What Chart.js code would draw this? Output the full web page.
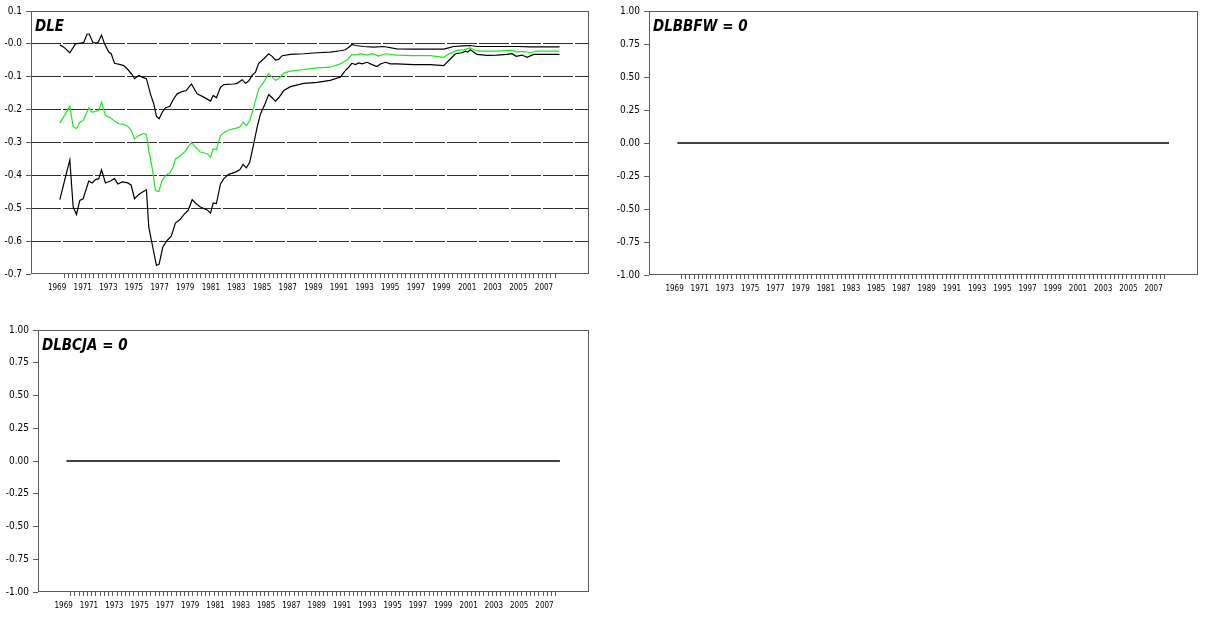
<!DOCTYPE html>
<html>
<head>
<meta charset="utf-8">
<script src="https://cdn.jsdelivr.net/npm/chart.js@4.4.1/dist/chart.umd.min.js"></script>
<style>
  html, body { margin: 0; padding: 0; background: #fff; }
  #page { position: relative; width: 1206px; height: 618px; overflow: hidden; }
  canvas { position: absolute; }
</style>
</head>
<body>
<div id="page">
  <canvas id="dleChart" width="600" height="300" style="left:0;top:0"></canvas>
  <canvas id="bbfwChart" width="606" height="300" style="left:600px;top:0"></canvas>
  <canvas id="bcjaChart" width="600" height="318" style="left:0;top:300px"></canvas>
</div>
<script>
// Recursive estimates of DLE with +/- 2 s.e. band
const upperYears = [1969.0, 1969.31, 1969.78, 1970.22, 1970.61, 1970.87, 1971.13, 1971.29, 1971.6, 1971.97,
  1972.25, 1972.49, 1972.82, 1973.01, 1973.27, 1973.73, 1973.99, 1974.31, 1974.65, 1974.83,
  1975.16, 1975.43, 1975.76, 1976.07, 1976.33, 1976.54, 1976.75, 1976.99, 1977.24, 1977.58,
  1977.89, 1978.16, 1978.55, 1978.86, 1979.06, 1979.27, 1979.72, 1980.23, 1980.76, 1980.97,
  1981.22, 1981.54, 1981.8, 1982.57, 1982.84, 1983.23, 1983.49, 1983.74, 1984.0, 1984.27,
  1984.52, 1984.9, 1985.3, 1985.57, 1985.83, 1986.08, 1986.35, 1987.0, 1988.03, 1989.08,
  1990.1, 1990.9, 1991.29, 1991.55, 1991.8, 1992.07, 1992.7, 1993.5, 1994.27, 1995.3,
  1996.6, 1997.9, 1998.95, 1999.34, 1999.73, 2000.5, 2001.04, 2001.56, 2003.1, 2004.7,
  2005.7, 2008.0];
const upperVals = [-0.003, -0.010, -0.027, 0.000, 0.002, 0.005, 0.030, 0.030, 0.003, 0.003,
  0.027, 0.000, -0.025, -0.030, -0.059, -0.063, -0.066, -0.078, -0.094, -0.106,
  -0.096, -0.101, -0.106, -0.152, -0.182, -0.221, -0.228, -0.208, -0.195, -0.190,
  -0.167, -0.152, -0.145, -0.142, -0.132, -0.122, -0.152, -0.162, -0.174, -0.157,
  -0.164, -0.132, -0.124, -0.122, -0.120, -0.109, -0.120, -0.113, -0.096, -0.086,
  -0.059, -0.046, -0.030, -0.038, -0.049, -0.047, -0.036, -0.032, -0.030, -0.027,
  -0.025, -0.021, -0.018, -0.010, -0.002, -0.005, -0.008, -0.010, -0.008, -0.015,
  -0.016, -0.016, -0.016, -0.012, -0.008, -0.006, -0.005, -0.008, -0.008, -0.008,
  -0.009, -0.009];

const estYears = [1969.0, 1969.44, 1969.78, 1970.04, 1970.3, 1970.56, 1970.82, 1971.26, 1971.52, 1971.78,
  1972.04, 1972.25, 1972.56, 1972.95, 1973.27, 1973.6, 1973.99, 1974.31, 1974.57, 1974.83,
  1975.16, 1975.55, 1975.76, 1975.94, 1976.2, 1976.46, 1976.72, 1976.99, 1977.32, 1977.58,
  1977.84, 1978.02, 1978.41, 1978.73, 1979.01, 1979.27, 1979.58, 1979.97, 1980.49, 1980.76,
  1980.97, 1981.22, 1981.54, 1981.8, 1982.18, 1982.7, 1983.04, 1983.3, 1983.56, 1983.82,
  1984.13, 1984.52, 1984.9, 1985.3, 1985.57, 1985.83, 1986.08, 1986.48, 1987.0, 1988.03,
  1989.08, 1990.1, 1990.9, 1991.42, 1991.81, 1992.07, 1992.46, 1992.98, 1993.37, 1993.89,
  1994.41, 1995.3, 1996.6, 1997.9, 1998.95, 1999.48, 2000.0, 2000.5, 2001.04, 2001.3,
  2001.69, 2003.1, 2004.29, 2004.7, 2005.2, 2005.7, 2006.24, 2008.0];
const estVals = [-0.241, -0.213, -0.190, -0.251, -0.258, -0.238, -0.233, -0.195, -0.208, -0.205,
  -0.203, -0.177, -0.218, -0.225, -0.235, -0.243, -0.245, -0.251, -0.263, -0.289,
  -0.279, -0.272, -0.276, -0.324, -0.375, -0.446, -0.449, -0.415, -0.397, -0.393,
  -0.375, -0.350, -0.340, -0.329, -0.314, -0.299, -0.314, -0.329, -0.334, -0.344,
  -0.319, -0.322, -0.279, -0.270, -0.262, -0.257, -0.253, -0.238, -0.249, -0.233,
  -0.193, -0.137, -0.117, -0.091, -0.101, -0.111, -0.106, -0.089, -0.083, -0.078,
  -0.073, -0.071, -0.061, -0.049, -0.032, -0.034, -0.030, -0.034, -0.030, -0.037,
  -0.030, -0.034, -0.036, -0.036, -0.041, -0.028, -0.020, -0.018, -0.012, -0.018,
  -0.022, -0.022, -0.020, -0.025, -0.023, -0.027, -0.022, -0.022];

const lowerYears = [1969.0, 1969.44, 1969.78, 1970.04, 1970.3, 1970.56, 1970.82, 1971.26, 1971.52, 1971.78,
  1972.04, 1972.25, 1972.56, 1972.95, 1973.27, 1973.53, 1973.87, 1974.31, 1974.57, 1974.83,
  1975.16, 1975.43, 1975.76, 1975.94, 1976.2, 1976.54, 1976.75, 1977.04, 1977.37, 1977.69,
  1978.02, 1978.36, 1978.73, 1979.01, 1979.33, 1979.58, 1979.97, 1980.49, 1980.76, 1980.97,
  1981.22, 1981.54, 1981.8, 1982.18, 1982.7, 1983.04, 1983.3, 1983.56, 1983.82, 1984.13,
  1984.4, 1984.66, 1984.97, 1985.3, 1985.57, 1985.83, 1986.08, 1986.48, 1987.0, 1988.03,
  1989.08, 1990.1, 1990.9, 1991.29, 1991.55, 1991.8, 1992.07, 1992.33, 1992.59, 1992.98,
  1993.37, 1993.76, 1994.02, 1994.41, 1994.8, 1995.3, 1996.6, 1997.9, 1998.95, 1999.48,
  1999.87, 2000.39, 2000.65, 2000.83, 2001.04, 2001.56, 2002.34, 2003.1, 2003.9, 2004.29,
  2004.62, 2005.07, 2005.46, 2005.98, 2008.0];
const lowerVals = [-0.474, -0.405, -0.353, -0.496, -0.519, -0.476, -0.471, -0.417, -0.423, -0.413,
  -0.410, -0.383, -0.423, -0.417, -0.410, -0.426, -0.420, -0.423, -0.430, -0.471,
  -0.458, -0.451, -0.444, -0.557, -0.608, -0.674, -0.670, -0.618, -0.598, -0.586,
  -0.545, -0.535, -0.517, -0.507, -0.474, -0.484, -0.496, -0.505, -0.515, -0.484,
  -0.486, -0.426, -0.410, -0.397, -0.390, -0.383, -0.367, -0.377, -0.360, -0.304,
  -0.253, -0.213, -0.187, -0.154, -0.164, -0.174, -0.164, -0.142, -0.130, -0.120,
  -0.117, -0.111, -0.101, -0.081, -0.071, -0.059, -0.063, -0.058, -0.061, -0.056,
  -0.063, -0.069, -0.061, -0.056, -0.061, -0.061, -0.063, -0.063, -0.066, -0.046,
  -0.030, -0.027, -0.022, -0.025, -0.018, -0.032, -0.035, -0.034, -0.032, -0.030,
  -0.038, -0.034, -0.041, -0.032, -0.032];

// the two restricted coefficients are zero over the whole sample
const zeroYears = [1969.0, 2008.0];
const zeroVals = [0, 0];

// axis ticks and labels
const yearLabels = ["1969", "1971", "1973", "1975", "1977", "1979", "1981", "1983", "1985", "1987",
  "1989", "1991", "1993", "1995", "1997", "1999", "2001", "2003", "2005", "2007"];
const dleTickValues = [-0.7, -0.6, -0.5, -0.4, -0.3, -0.2, -0.1, 0, 0.1];
const dleTickLabels = ["-0.7", "-0.6", "-0.5", "-0.4", "-0.3", "-0.2", "-0.1", "-0.0", "0.1"];
const unitTickValues = [-1, -0.75, -0.5, -0.25, 0, 0.25, 0.5, 0.75, 1];
const unitTickLabels = ["-1.00", "-0.75", "-0.50", "-0.25", "0.00", "0.25", "0.50", "0.75", "1.00"];

const narrow = "'Liberation Sans Narrow', 'DejaVu Sans Condensed', 'Liberation Sans', Arial, sans-serif";
const axisGray = "#5a5a5a";

// small ticks every third of a year, labels every two years
const xTickValues = [];
for (let i = 1; i <= yearLabels.length * 6 - 4; i++) xTickValues.push(1969 + i / 3);

function toPoints(xs, ys) {
  return xs.map((x, i) => ({ x, y: ys[i] }));
}

// frame round the plot area plus the italic panel title
const framePlugin = {
  id: "frame",
  afterDatasetsDraw(chart, args, opts) {
    const { ctx, chartArea: a } = chart;
    ctx.save();
    ctx.strokeStyle = axisGray;
    ctx.lineWidth = 1;
    ctx.strokeRect(Math.round(a.left) + 0.5, Math.round(a.top) + 0.5,
      Math.round(a.right - a.left) - 1, Math.round(a.bottom - a.top) - 1);
    ctx.fillStyle = "#000";
    ctx.font = "italic bold 15px " + narrow;
    ctx.textBaseline = "alphabetic";
    ctx.fillText(opts.title, a.left + 4, a.top + 20);
    ctx.restore();
  },
};

function makeChart(id, cfg) {
  const datasets = cfg.series.map((s) => ({
    data: toPoints(s.xs, s.ys),
    borderColor: s.color,
    borderWidth: cfg.lineWidth,
    pointRadius: 0,
    tension: 0,
    fill: false,
  }));

  return new Chart(document.getElementById(id).getContext("2d"), {
    type: "line",
    data: { datasets },
    plugins: [framePlugin],
    options: {
      responsive: false,
      animation: false,
      events: [],
      layout: { padding: { top: cfg.padTop, right: cfg.padRight, left: 0, bottom: 0 } },
      plugins: {
        legend: { display: false },
        tooltip: { enabled: false },
        frame: { title: cfg.title },
      },
      scales: {
        x: {
          type: "linear",
          min: 1966.75,
          max: 2010.3,
          afterBuildTicks: (scale) => {
            scale.ticks = xTickValues.map((v) => ({ value: v }));
          },
          afterFit: (scale) => {
            scale.height = cfg.xHeight;
          },
          border: { display: false },
          grid: { drawOnChartArea: false, drawTicks: true, tickLength: 4, tickColor: axisGray },
          ticks: {
            autoSkip: false,
            maxRotation: 0,
            padding: 5,
            labelOffset: -7,
            color: "#000",
            font: { family: narrow, size: 8 },
            callback: (value, index) => (index % 6 === 0 ? yearLabels[index / 6] : ""),
          },
        },
        y: {
          min: cfg.yValues[0],
          max: cfg.yValues[cfg.yValues.length - 1],
          afterBuildTicks: (scale) => {
            scale.ticks = cfg.yValues.map((v) => ({ value: v }));
          },
          afterFit: (scale) => {
            scale.width = cfg.yWidth;
          },
          border: { display: false, dash: [30, 2] },
          grid: {
            drawOnChartArea: cfg.gridLines,
            drawTicks: true,
            tickLength: 5,
            tickColor: axisGray,
            color: (ctx) =>
              ctx.tick && ctx.index > 0 && ctx.index < cfg.yValues.length - 1 ? "#2e2e2e" : "rgba(0,0,0,0)",
          },
          ticks: {
            padding: 4,
            color: "#000",
            font: { family: narrow, size: 10 },
            callback: (value, index) => cfg.yLabels[index],
          },
        },
      },
    },
  });
}

document.addEventListener("DOMContentLoaded", () => {
  makeChart("dleChart", {
    title: "DLE",
    padTop: 11, padRight: 11, yWidth: 31, xHeight: 26, lineWidth: 1.2,
    yValues: dleTickValues, yLabels: dleTickLabels, gridLines: true,
    series: [
      { xs: upperYears, ys: upperVals, color: "#000000" },
      { xs: estYears, ys: estVals, color: "#1ee61e" },
      { xs: lowerYears, ys: lowerVals, color: "#000000" },
    ],
  });

  makeChart("bbfwChart", {
    title: "DLBBFW = 0",
    padTop: 11, padRight: 8, yWidth: 49, xHeight: 25, lineWidth: 1.6,
    yValues: unitTickValues, yLabels: unitTickLabels, gridLines: false,
    series: [{ xs: zeroYears, ys: zeroVals, color: "#000000" }],
  });

  makeChart("bcjaChart", {
    title: "DLBCJA = 0",
    padTop: 30, padRight: 11, yWidth: 38, xHeight: 26, lineWidth: 1.6,
    yValues: unitTickValues, yLabels: unitTickLabels, gridLines: false,
    series: [{ xs: zeroYears, ys: zeroVals, color: "#000000" }],
  });
});
</script>
</body>
</html>
